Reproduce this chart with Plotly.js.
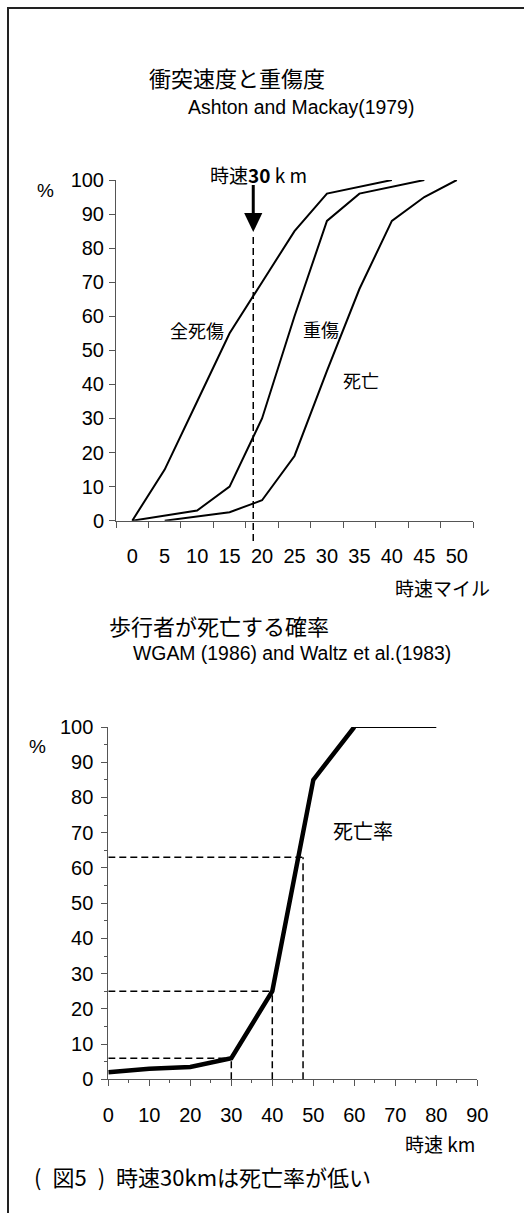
<!DOCTYPE html>
<html><head><meta charset="utf-8">
<script src="https://cdn.plot.ly/plotly-3.0.1.min.js"></script>
<style>html,body{margin:0;padding:0;background:#fff;} #chart{width:524px;height:1213px;}</style>
</head><body><div id="chart"></div>
<script>
// ---- Top chart: 衝突速度と重傷度 (speed in mph vs %) ----
const mphTicks = [0,5,10,15,20,25,30,35,40,45,50];
const allCasualtyMph = [0,5,10,15,20,25,30,35,40];
const allCasualtyPct = [0,15,35,55,70,85,96,98,100];
const seriousMph = [0,5,10,15,20,25,30,35,40,45];
const seriousPct = [0,1.5,3,10,30,60,88,96,98,100];
const fatalMph = [5,10,15,20,25,30,35,40,45,50];
const fatalPct = [0,1.2,2.5,6,19,44,68,88,95,100];
const refMph = 30/1.609; // 時速30km in mph

// ---- Bottom chart: 歩行者が死亡する確率 (km/h vs %) ----
const kmhTicks = [0,10,20,30,40,50,60,70,80,90];
const kmh = [0,10,20,30,40,50,60,70,80];
const deathRate = [2,3,3.5,6,25,85,100,100,100];
const refKmh = [30,40,47.5];
const refPct = [6,25,63];
const pctTicks = [0,10,20,30,40,50,60,70,80,90,100];

const W = 524, H = 1213;
const px = x => x / W, py = y => 1 - y / H;
const JP = 'Noto Sans CJK JP, Liberation Sans, sans-serif';
const LAT = 'Liberation Sans, Arial, sans-serif';
const DASH = '7px,4px';

const traces = [
  {x: allCasualtyMph, y: allCasualtyPct, xaxis:'x', yaxis:'y', mode:'lines', line:{color:'#000', width:2}},
  {x: seriousMph, y: seriousPct, xaxis:'x', yaxis:'y', mode:'lines', line:{color:'#000', width:2}},
  {x: fatalMph, y: fatalPct, xaxis:'x', yaxis:'y', mode:'lines', line:{color:'#000', width:2}},
  {x: kmh.slice(0,7), y: deathRate.slice(0,7), xaxis:'x2', yaxis:'y2', mode:'lines', line:{color:'#000', width:4.5}},
  {x: kmh.slice(6), y: deathRate.slice(6), xaxis:'x2', yaxis:'y2', mode:'lines', line:{color:'#000', width:2}}
];

const tickFont = {family: LAT, size: 20, color:'#000'};
const shapes = [
  // outer frame
  {type:'rect', xref:'paper', yref:'paper', x0:px(8), x1:1.1, y0:-0.1, y1:py(8), line:{color:'#222', width:2}},
  // arrow shaft & head at 30 km/h
  {type:'line', xref:'x', yref:'paper', x0:refMph, x1:refMph, y0:py(185), y1:py(215), line:{color:'#000', width:3}},
  {type:'path', xref:'x', yref:'paper',
   path:`M ${refMph-1.4},${py(213)} L ${refMph+1.4},${py(213)} L ${refMph},${py(232)} Z`,
   fillcolor:'#000', line:{color:'#000', width:0}},
  // dashed vertical
  {type:'line', xref:'x', yref:'paper', x0:refMph, x1:refMph, y0:py(237), y1:py(543), line:{color:'#000', width:1.5, dash:DASH}}
];
refKmh.forEach((k,i) => {
  shapes.push({type:'line', xref:'x2', yref:'y2', x0:0, x1:k, y0:refPct[i], y1:refPct[i], line:{color:'#000', width:1.5, dash:DASH}});
  shapes.push({type:'line', xref:'x2', yref:'y2', x0:k, x1:k, y0:0, y1:refPct[i], line:{color:'#000', width:1.5, dash:DASH}});
});

function ann(text, x, y, size, family, opts) {
  return Object.assign({text, x:px(x), y:py(y), xref:'paper', yref:'paper', showarrow:false,
    xanchor:'center', yanchor:'middle', font:{family, size, color:'#000'}}, opts || {});
}
const annotations = [
  ann('衝突速度と重傷度', 237, 77, 22, JP),
  ann('Ashton and Mackay(1979)', 301, 107, 19.4, LAT),
  ann('時速<b>30</b> k m', 258, 174, 19, JP),
  ann('%', 45, 190, 19, LAT),
  ann('全死傷', 197, 330, 18, JP),
  ann('重傷', 321, 329, 18, JP),
  ann('死亡', 361, 380, 18, JP),
  ann('時速マイル', 442, 587, 19, JP),
  ann('歩行者が死亡する確率', 219, 625, 22, JP),
  ann('WGAM (1986) and Waltz et al.(1983)', 292, 653, 19.4, LAT),
  ann('%', 37, 746, 19, LAT),
  ann('死亡率', 363, 830, 20, JP),
  ann('時速 km', 440, 1143, 19, JP),
  ann('(\u2002図5\u2002)\u2002時速30kmは死亡率が低い', 32, 1176, 22, JP, {xanchor:'left'})
];

const layout = {
  width: W, height: H, margin:{l:0,r:0,t:0,b:0}, showlegend:false,
  paper_bgcolor:'#fff', plot_bgcolor:'#fff',
  xaxis: {domain:[px(116), px(473)], range:[-2.5, 52.5], tickvals: mphTicks, ticks:'', showgrid:false, zeroline:false,
    showline:true, linecolor:'#555', linewidth:1, tickfont: tickFont, ticklabelstandoff: 17,
    minor:{tickvals: mphTicks.map(v => v - 2.5).concat([52.5]), ticks:'outside', ticklen:6, tickcolor:'#555', showgrid:false},
    anchor:'y', fixedrange:true},
  yaxis: {domain:[py(520.7), py(180)], range:[0,100], tickvals: pctTicks, ticks:'outside', ticklen:6, tickcolor:'#555',
    showgrid:false, zeroline:false, showline:true, linecolor:'#555', linewidth:1, tickfont: tickFont, ticklabelstandoff: 1,
    anchor:'x', fixedrange:true},
  xaxis2: {domain:[px(108.3), px(477.3)], range:[0, 90], tickvals: kmhTicks, ticks:'outside', ticklen:6, tickcolor:'#555',
    showgrid:false, zeroline:false, showline:true, linecolor:'#555', linewidth:1, tickfont: tickFont, ticklabelstandoff: 12,
    minor:{dtick:5, ticks:'outside', ticklen:3, tickcolor:'#555', showgrid:false}, anchor:'y2', fixedrange:true},
  yaxis2: {domain:[py(1079.3), py(727)], range:[0,100], tickvals: pctTicks, ticks:'outside', ticklen:6, tickcolor:'#555',
    showgrid:false, zeroline:false, showline:true, linecolor:'#555', linewidth:1, tickfont: tickFont, ticklabelstandoff: 4,
    minor:{dtick:5, ticks:'outside', ticklen:3, tickcolor:'#555', showgrid:false}, anchor:'x2', fixedrange:true},
  shapes, annotations
};
Plotly.newPlot('chart', traces, layout, {displayModeBar:false, staticPlot:true});
</script></body></html>
